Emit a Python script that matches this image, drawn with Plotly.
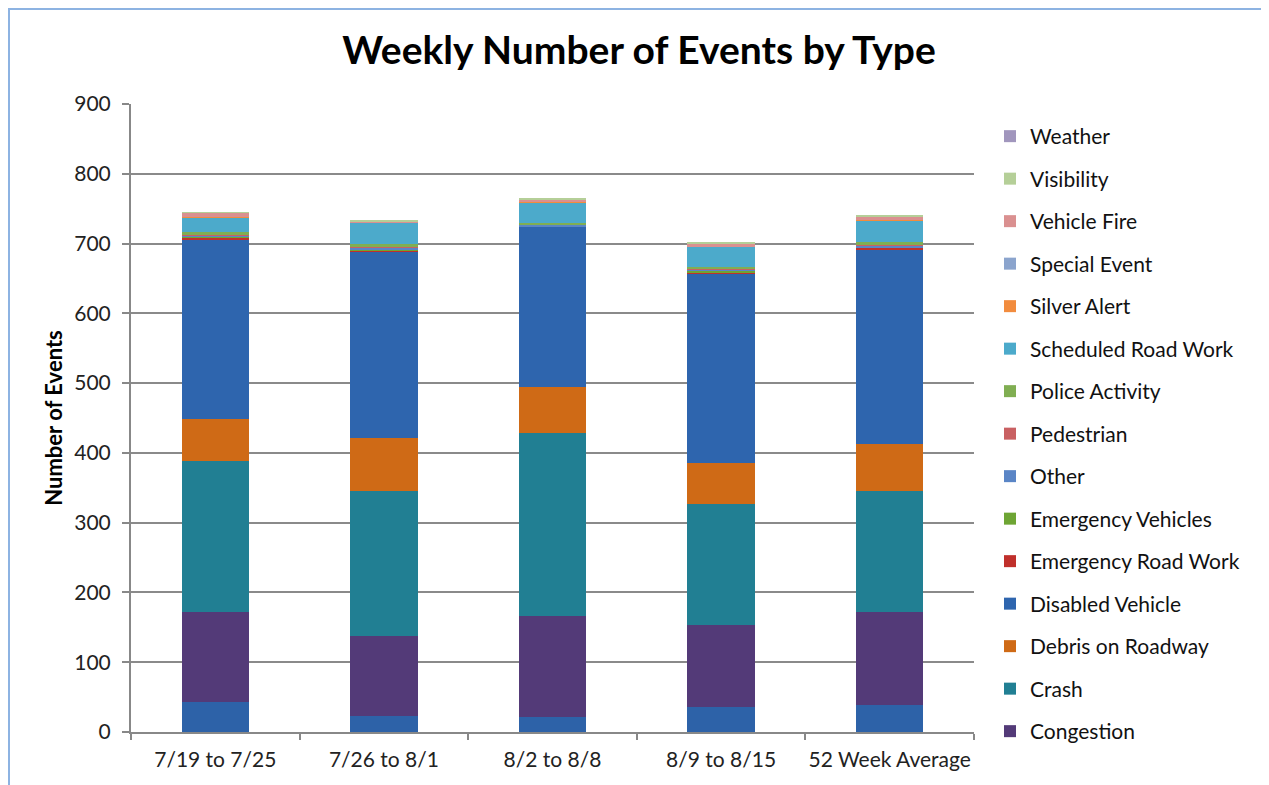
import plotly.graph_objects as go

categories = ["7/19 to 7/25", "7/26 to 8/1", "8/2 to 8/8", "8/9 to 8/15", "52 Week Average"]

# stack order bottom -> top
abandoned_vehicle = [43, 23, 21, 36, 38]   # bottom segment, not shown in the legend
congestion = [129, 114, 145, 117, 134]
crash = [216, 208, 262, 174, 174]
debris_on_roadway = [61, 77, 66, 58, 67]
disabled_vehicle = [256, 266, 230, 272, 278]
emergency_road_work = [4, 2, 1, 2, 3]
emergency_vehicles = [1, 2, 0, 1, 1]
other = [1, 2, 1, 3, 2]
pedestrian = [1, 1, 0, 1, 1]
police_activity = [4, 4, 3, 3, 4]
scheduled_road_work = [21, 31, 30, 28, 31]
silver_alert = [1, 0, 1, 0, 1]
special_event = [0, 0, 0, 0, 0]
vehicle_fire = [6, 1, 3, 5, 5]
visibility = [1, 2, 1, 1, 1]
weather = [0, 0, 0, 0, 0]

series = [
    ("Abandoned Vehicle", abandoned_vehicle, "#2D62A8", False),
    ("Congestion", congestion, "#533A78", True),
    ("Crash", crash, "#217F93", True),
    ("Debris on Roadway", debris_on_roadway, "#CF6A16", True),
    ("Disabled Vehicle", disabled_vehicle, "#2E65AE", True),
    ("Emergency Road Work", emergency_road_work, "#C0302B", True),
    ("Emergency Vehicles", emergency_vehicles, "#6EA534", True),
    ("Other", other, "#5A85C6", True),
    ("Pedestrian", pedestrian, "#C96062", True),
    ("Police Activity", police_activity, "#80AE52", True),
    ("Scheduled Road Work", scheduled_road_work, "#4CAACB", True),
    ("Silver Alert", silver_alert, "#F28C3E", True),
    ("Special Event", special_event, "#8BA4CD", True),
    ("Vehicle Fire", vehicle_fire, "#DA9090", True),
    ("Visibility", visibility, "#B5CF98", True),
    ("Weather", weather, "#A196BD", True),
]

fig = go.Figure()
for i, (name, vals, color, show) in enumerate(series):
    fig.add_trace(go.Bar(
        x=categories, y=vals, name=name,
        marker=dict(color=color, line=dict(width=0)),
        showlegend=show, legendgroup=name, legendrank=1000 - i,
    ))

font_family = "Lato, 'Open Sans', sans-serif"

# figure is drawn inside the page body (8px offset), so size it to fit the window
W, H = 1261, 777
L, R, T, B = 123, 966, 96, 724   # plot area in figure pixels

fig.update_layout(
    width=W, height=H,
    barmode="stack", bargap=0.6,
    paper_bgcolor="white", plot_bgcolor="white",
    margin=dict(l=L, r=W - R, t=T, b=H - B, pad=0, autoexpand=False),
    title=dict(text="<b>Weekly Number of Events by Type</b>",
               x=631 / W, xanchor="center", xref="container",
               y=1 - 42 / H, yanchor="middle", yref="container",
               font=dict(family=font_family, size=39, color="#000000")),
    font=dict(family=font_family, color="#222222"),
    legend=dict(traceorder="grouped", tracegroupgap=12.2,
                x=982 / W, xref="container", xanchor="left",
                y=1 - 108 / H, yref="container", yanchor="top",
                maxheight=760,
                font=dict(family=font_family, size=21, color="#111111"),
                itemwidth=30, bgcolor="rgba(0,0,0,0)"),
    xaxis=dict(showline=True, linecolor="#888888", linewidth=2, automargin=False, tickangle=0,
               ticks="outside", tickson="boundaries", ticklen=6, tickcolor="#888888", tickwidth=2,
               ticklabelstandoff=8,
               tickfont=dict(size=21, color="#222222", family=font_family)),
    yaxis=dict(range=[0, 900], dtick=100, showgrid=True, gridcolor="#8A8A8A", gridwidth=2,
               showline=True, linecolor="#888888", linewidth=2, automargin=False,
               ticks="outside", ticklen=7, tickcolor="#888888", tickwidth=2,
               ticklabelstandoff=7,
               tickfont=dict(size=21, color="#222222", family=font_family),
               title=dict(text="<b>Number of Events</b>", font=dict(size=22, color="#000000", family=font_family),
                          standoff=6),
               zeroline=False),
    shapes=[dict(type="rect", xref="paper", yref="paper",
                 x0=(1 - L) / (R - L), x1=(1258 - L) / (R - L),
                 y0=(B - 800) / (B - T), y1=(B - 1) / (B - T),
                 line=dict(color="#8DB3E2", width=2), fillcolor="rgba(0,0,0,0)", layer="below")],
)

fig.write_html("out.html")
